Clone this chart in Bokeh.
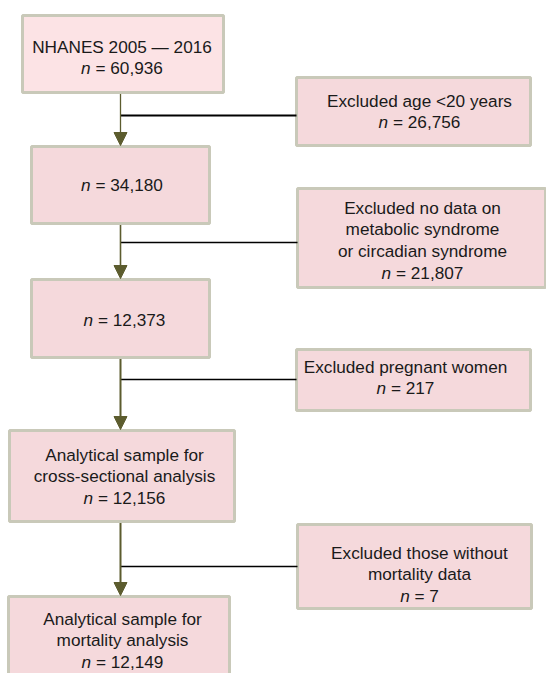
from bokeh.plotting import figure
from bokeh.models import Range1d, Arrow, NormalHead
from bokeh.core.properties import value
from bokeh.embed import file_html
from bokeh.resources import INLINE

# ---------------- data ----------------
main_titles = ["NHANES 2005 \u2014 2016", "", "",
               "Analytical sample for\ncross-sectional analysis",
               "Analytical sample for\nmortality analysis"]
main_counts = [60936, 34180, 12373, 12156, 12149]
excl_titles = ["Excluded age <20 years",
               "Excluded no data on\nmetabolic syndrome\nor circadian syndrome",
               "Excluded pregnant women",
               "Excluded those without\nmortality data"]
excl_counts = [26756, 21807, 217, 7]

# ---------------- layout (page pixels) ----------------
main_boxes = [(22, 223, 15, 92), (31, 209, 146, 223), (31, 209, 279, 357),
              (9, 234, 430, 521), (8, 229, 596, 700)]
main_text = [(121.5, 46), (121.5, 184), (124, 319), (124, 454), (122, 618)]
excl_boxes = [(296, 530, 77, 145), (297, 545, 188, 287), (296, 530, 349, 410),
              (297, 531, 524, 608)]
excl_text = [(419, 100), (422, 207), (405, 366), (419, 552)]
junction_y = [115, 242, 379, 566]
spine_x = 120
line_h = 21.8
FS = 17.2

FONT = value("Liberation Sans")
TXT = "#1a1a1a"
OLIVE = "#5c5c2e"
BORDER = "#c9c9b9"

W = {"n": 556, " ": 278, "=": 584, ",": 278}
def tw(s):
    return sum(W.get(ch, 556) for ch in s) * FS / 1000.0

PW, PH = 546, 673
p = figure(width=PW, height=PH, x_range=Range1d(0, PW), y_range=Range1d(PH, 0),
           output_backend="svg", toolbar_location=None, min_border=0,
           x_axis_location=None, y_axis_location=None)
p.grid.visible = False
p.outline_line_color = None
p.background_fill_color = "white"
p.border_fill_color = "white"

fills = ["#fce3e5"] + ["#f5d9dc"] * 4
p.quad(left=[b[0] for b in main_boxes], right=[b[1] for b in main_boxes],
       top=[b[2] for b in main_boxes], bottom=[b[3] for b in main_boxes],
       fill_color=fills, line_color=BORDER, line_width=3)
p.quad(left=[b[0] for b in excl_boxes], right=[b[1] for b in excl_boxes],
       top=[b[2] for b in excl_boxes], bottom=[b[3] for b in excl_boxes],
       fill_color="#f5d9dc", line_color=BORDER, line_width=3)

# connectors
p.segment(x0=[spine_x] * 4, y0=junction_y, x1=[b[0] for b in excl_boxes], y1=junction_y,
          line_color="black", line_width=[2, 1.6, 1.6, 1.6])
widths = [1.3, 1.6, 2, 2]
for i in range(4):
    p.add_layout(Arrow(end=NormalHead(size=13, fill_color=OLIVE, line_color=OLIVE, line_width=1),
                       x_start=spine_x, y_start=main_boxes[i][3] + 1.5,
                       x_end=spine_x, y_end=main_boxes[i + 1][2] - 1,
                       line_color=OLIVE, line_width=widths[i]))

# texts
lx, ly, lt = [], [], []
nx, ny = [], []
rx, ry, rt = [], [], []
def add_block(title, count, cx, y0):
    lines = [t for t in title.split("\n") if t]
    y = y0
    for t in lines:
        lx.append(cx); ly.append(y); lt.append(t)
        y += line_h
    rest = "= " + f"{count:,}"
    total = tw("n ") + tw(rest)
    left = cx - total / 2
    nx.append(left); ny.append(y)
    rx.append(left + tw("n ")); ry.append(y); rt.append(rest)

for t, c, (cx, cy) in zip(main_titles, main_counts, main_text):
    add_block(t, c, cx, cy)
for t, c, (cx, cy) in zip(excl_titles, excl_counts, excl_text):
    add_block(t, c, cx, cy)

common = dict(text_font=FONT, text_font_size=value(f"{FS}px"), text_color=TXT,
              text_baseline="middle")
p.text(x=lx, y=ly, text=lt, text_align="center", **common)
p.text(x=nx, y=ny, text=["n"] * len(nx), text_align="left", text_font_style="italic", **common)
p.text(x=rx, y=ry, text=rt, text_align="left", **common)

open("out.html", "w").write(file_html(p, INLINE))
